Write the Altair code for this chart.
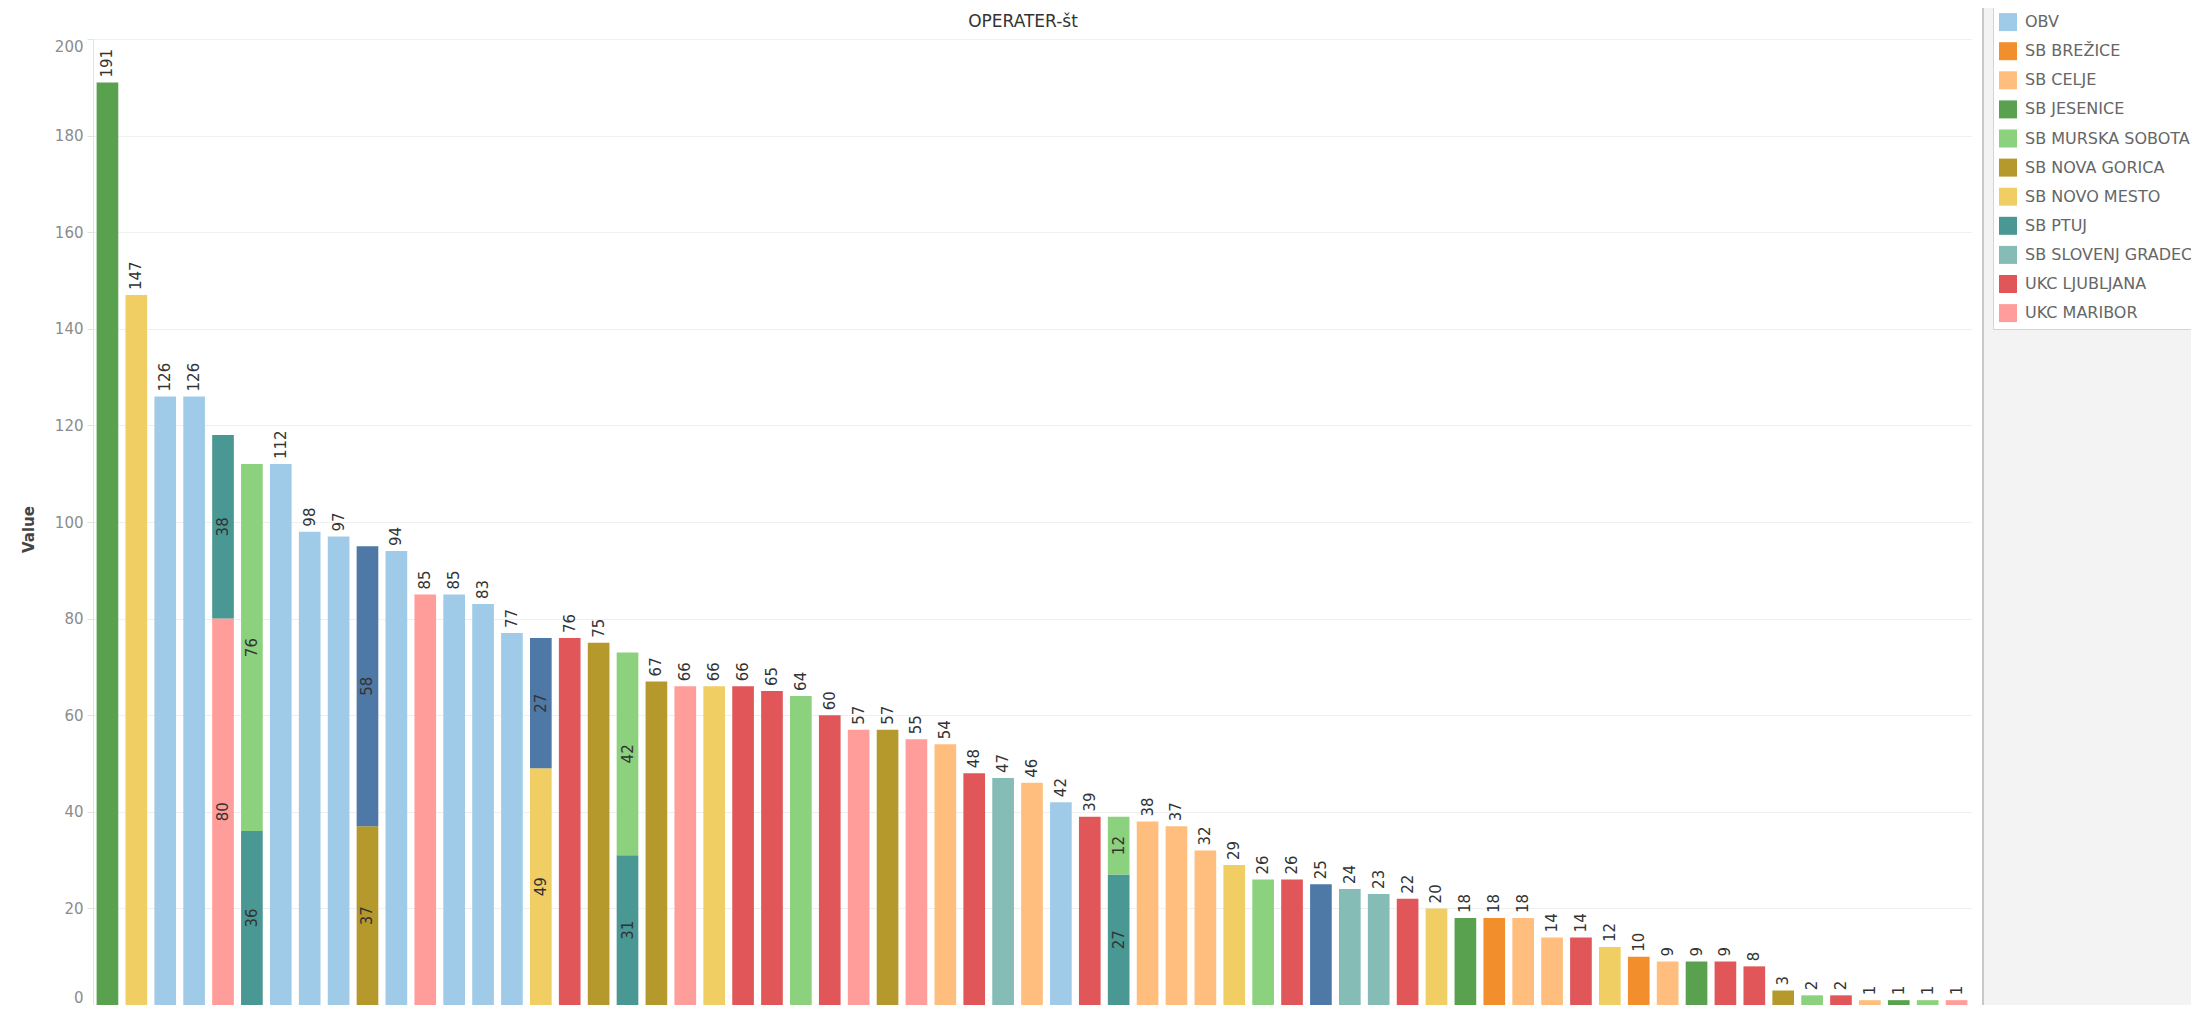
import altair as alt
import pandas as pd

# ---- legend / colour domain ----
hospitals = ["K.S. ROŽNA DOLINA", "OBV", "SB BREŽICE", "SB CELJE", "SB JESENICE",
             "SB MURSKA SOBOTA", "SB NOVA GORICA", "SB NOVO MESTO", "SB PTUJ",
             "SB SLOVENJ GRADEC", "UKC LJUBLJANA", "UKC MARIBOR"]
colors = ["#4e79a7", "#a0cbe8", "#f28e2b", "#ffbe7d", "#59a14f", "#8cd17d",
          "#b6992d", "#f1ce63", "#499894", "#86bcb6", "#e15759", "#ff9d9a"]

chart_title = "OPERATER-št"
y_title = "Value"

# ---- base (bottom) segment of each bar, left to right ----
base_hospital = [
    "SB JESENICE", "SB NOVO MESTO", "OBV", "OBV", "UKC MARIBOR", "SB PTUJ", "OBV", "OBV", "OBV",
    "SB NOVA GORICA", "OBV", "UKC MARIBOR", "OBV", "OBV", "OBV", "SB NOVO MESTO", "UKC LJUBLJANA",
    "SB NOVA GORICA", "SB PTUJ", "SB NOVA GORICA", "UKC MARIBOR", "SB NOVO MESTO", "UKC LJUBLJANA",
    "UKC LJUBLJANA", "SB MURSKA SOBOTA", "UKC LJUBLJANA", "UKC MARIBOR", "SB NOVA GORICA",
    "UKC MARIBOR", "SB CELJE", "UKC LJUBLJANA", "SB SLOVENJ GRADEC", "SB CELJE", "OBV",
    "UKC LJUBLJANA", "SB PTUJ", "SB CELJE", "SB CELJE", "SB CELJE", "SB NOVO MESTO",
    "SB MURSKA SOBOTA", "UKC LJUBLJANA", "K.S. ROŽNA DOLINA", "SB SLOVENJ GRADEC",
    "SB SLOVENJ GRADEC", "UKC LJUBLJANA", "SB NOVO MESTO", "SB JESENICE", "SB BREŽICE", "SB CELJE",
    "SB CELJE", "UKC LJUBLJANA", "SB NOVO MESTO", "SB BREŽICE", "SB CELJE", "SB JESENICE",
    "UKC LJUBLJANA", "UKC LJUBLJANA", "SB NOVA GORICA", "SB MURSKA SOBOTA", "UKC LJUBLJANA",
    "SB CELJE", "SB JESENICE", "SB MURSKA SOBOTA", "UKC MARIBOR"]
base_value = [191, 147, 126, 126, 80, 36, 112, 98, 97, 37, 94, 85, 85, 83, 77, 49, 76, 75, 31, 67,
              66, 66, 66, 65, 64, 60, 57, 57, 55, 54, 48, 47, 46, 42, 39, 27, 38, 37, 32, 29,
              26, 26, 25, 24, 23, 22, 20, 18, 18, 18, 14, 14, 12, 10, 9, 9, 9, 8, 3, 2, 2, 1, 1, 1, 1]

# ---- second (upper) segments of the stacked bars ----
stack_bar = [5, 6, 10, 16, 19, 36]
stack_hospital = ["SB PTUJ", "SB MURSKA SOBOTA", "K.S. ROŽNA DOLINA", "K.S. ROŽNA DOLINA",
                  "SB MURSKA SOBOTA", "SB MURSKA SOBOTA"]
stack_value = [38, 76, 58, 27, 42, 12]

y_ticks = [0, 20, 40, 60, 80, 100, 120, 140, 160, 180, 200]

rows = []
for i, (h, v) in enumerate(zip(base_hospital, base_value), start=1):
    stacked = i in stack_bar
    rows.append(dict(bar=i, hospital=h, value=v, y0=0, y1=v,
                     kind="in" if stacked else "out"))
    if stacked:
        k = stack_bar.index(i)
        rows.append(dict(bar=i, hospital=stack_hospital[k], value=stack_value[k],
                         y0=v, y1=v + stack_value[k], kind="in"))
df = pd.DataFrame(rows)
df["mid"] = (df["y0"] + df["y1"]) / 2

FONT = "DejaVu Sans"

x_enc = alt.X("bar:O", sort=None, axis=None,
              scale=alt.Scale(paddingInner=0.25, paddingOuter=0.125))
y_scale = alt.Scale(domain=[0, 200], nice=False, zero=True)

one = pd.DataFrame({"p": [0]})

panel = alt.Chart(one).mark_rect(color="#f3f3f3").encode(
    x=alt.value(1890), x2=alt.value(2200), y=alt.value(-40), y2=alt.value(1000))
sep = alt.Chart(one).mark_rule(color="#c8c8c8", strokeWidth=2).encode(
    x=alt.value(1890), y=alt.value(-40), y2=alt.value(1000))

title_mark = alt.Chart(one).mark_text(
    font=FONT, fontSize=17, color="#333", align="center", baseline="middle"
).encode(x=alt.value(930), y=alt.value(-17), text=alt.value(chart_title))

bars = alt.Chart(df).mark_bar().encode(
    x=x_enc,
    y=alt.Y("y0:Q", scale=y_scale, title=y_title,
            axis=alt.Axis(values=y_ticks, grid=True, gridColor="#efefef",
                          domainColor="#e3e3e3", tickColor="#e3e3e3", tickSize=6,
                          labelFont=FONT, labelFontSize=15, labelColor="#8c8c8c",
                          labelPadding=4, labelFlush=True,
                          titleFont=FONT, titleFontSize=15, titleColor="#444",
                          titleFontWeight="bold", titleX=-65, titleY=490,
                          titleBaseline="middle", titleAlign="center", titleAngle=270)),
    y2="y1:Q",
    color=alt.Color("hospital:N", scale=alt.Scale(domain=hospitals, range=colors),
                    legend=alt.Legend(title=None, orient="none", legendX=1900, legendY=-61,
                                      symbolType="square", symbolSize=324,
                                      symbolStrokeWidth=0, labelFont=FONT,
                                      labelFontSize=16, labelColor="#666",
                                      labelOffset=8, rowPadding=11.1, padding=6,
                                      fillColor="white", strokeColor="#d4d4d4",
                                      zindex=2, labelLimit=400)),
)

labels_out = alt.Chart(df).transform_filter(alt.datum.kind == "out").mark_text(
    angle=270, align="left", baseline="middle", dx=5, font=FONT, fontSize=15, color="#333"
).encode(x=x_enc, y=alt.Y("y1:Q", scale=y_scale), text="value:Q")

labels_in = alt.Chart(df).transform_filter(alt.datum.kind == "in").mark_text(
    angle=270, align="center", baseline="middle", font=FONT, fontSize=15, color="#333"
).encode(x=x_enc, y=alt.Y("mid:Q", scale=y_scale), text="value:Q")

chart = alt.layer(panel, sep, bars, labels_out, labels_in, title_mark).properties(
    width=1878, height=966,
    autosize=alt.AutoSizeParams(type="none"),
    padding={"left": 85, "top": 31, "right": 220, "bottom": 0},
).configure_view(stroke=None)

chart.save("out.html", embed_options={"renderer": "svg", "actions": False})
